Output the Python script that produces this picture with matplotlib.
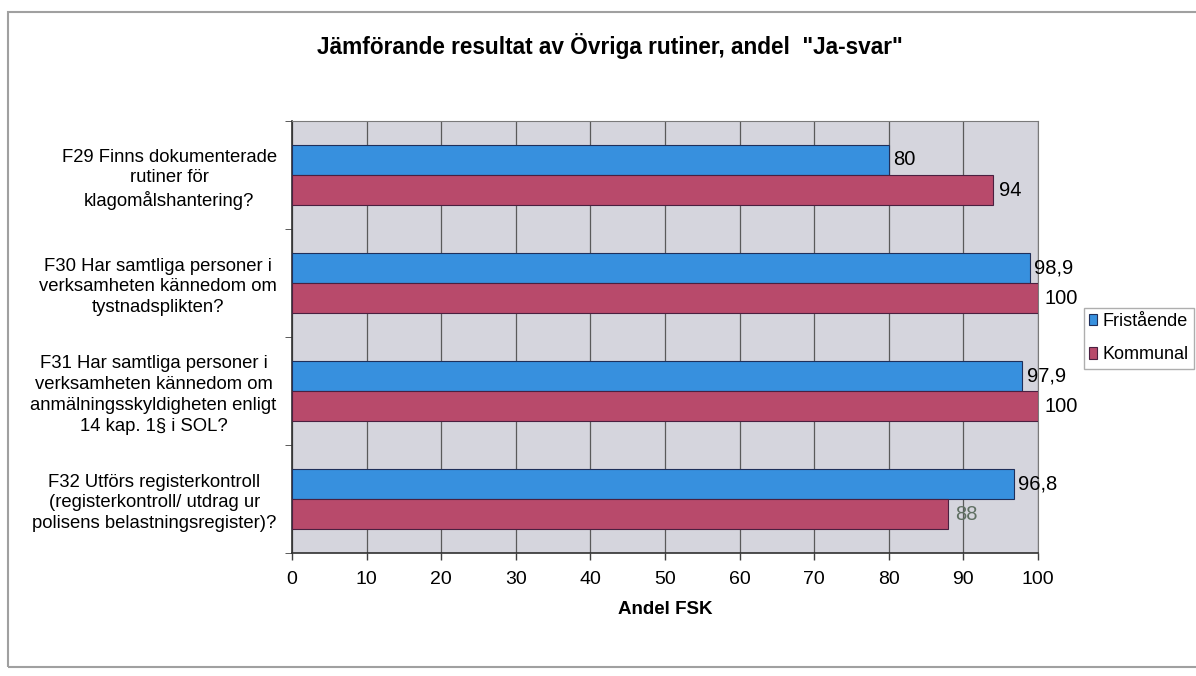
import numpy as np
import matplotlib.pyplot as plt
from matplotlib.patches import Rectangle

plt.rcParams['font.family'] = ['Liberation Sans', 'DejaVu Sans']

# data
questions = [
    "F29 Finns dokumenterade\nrutiner för\nklagomålshantering?",
    "F30 Har samtliga personer i\nverksamheten kännedom om\ntystnadsplikten?",
    "F31 Har samtliga personer i\nverksamheten kännedom om\nanmälningsskyldigheten enligt\n14 kap. 1§ i SOL?",
    "F32 Utförs registerkontroll\n(registerkontroll/ utdrag ur\npolisens belastningsregister)?",
]
fristaende = [80, 98.9, 97.9, 96.8]
kommunal = [94, 100, 100, 88]
series_names = ["Fristående", "Kommunal"]
xticks = list(range(0, 101, 10))

blue = '#3790de'
red = '#b84a6b'

fig = plt.figure(figsize=(11.96, 6.76), dpi=100)
ax = fig.add_axes([0.2441, 0.182, 0.6238, 0.639])
ax.set_facecolor('#d5d5dd')

y = np.arange(len(questions))
h = 0.28
b1 = ax.barh(y - h / 2, fristaende, height=h, color=blue, edgecolor='#1f2f5a', linewidth=0.8,
             label=series_names[0], zorder=3)
b2 = ax.barh(y + h / 2, kommunal, height=h, color=red, edgecolor='#4a2040', linewidth=0.8,
             label=series_names[1], zorder=3)


def fmt(v):
    return str(int(v)) if float(v).is_integer() else str(v).replace('.', ',')


ax.bar_label(b1, labels=[fmt(v) for v in fristaende], padding=3, fontsize=14.5, zorder=4)
lbl2 = ax.bar_label(b2, labels=[fmt(v) for v in kommunal], padding=4.5, fontsize=14.5, zorder=4)
lbl2[3].set_color('#5f6f62')

ax.set_xlim(0, 100)
ax.set_ylim(len(questions) - 0.5, -0.5)
ax.set_xticks(xticks)
ax.set_xticklabels([str(t) for t in xticks], fontsize=14)
ax.tick_params(axis='x', length=5, width=1, color='#404040', pad=8)
ax.set_yticks(y)
ax.set_yticklabels(questions, fontsize=13.3, multialignment='center', linespacing=1.3)
ax.tick_params(axis='y', length=0, pad=11)
ax.set_yticks(np.arange(len(questions) + 1) - 0.5, minor=True)
ax.tick_params(axis='y', which='minor', length=5, color='#404040')
ax.xaxis.grid(True, color='#5a5a5a', linewidth=0.9, zorder=1)
ax.set_axisbelow(True)
for s in ['top', 'right']:
    ax.spines[s].set_color('#7a7a7a')
for s in ['left', 'bottom']:
    ax.spines[s].set_color('#303030')
    ax.spines[s].set_linewidth(1.2)

ax.set_xlabel("Andel FSK", fontsize=13.5, fontweight='bold', labelpad=9)

fig.text(0.51, 0.932, 'Jämförande resultat av Övriga rutiner, andel  "Ja-svar"',
         ha='center', va='center', fontsize=16.3, fontweight='bold')

leg = fig.legend(loc='upper left', bbox_to_anchor=(0.906, 0.545), fontsize=13,
                 frameon=True, fancybox=False, edgecolor='#9a9a9a', handlelength=0.45,
                 handleheight=0.6, handletextpad=0.3, borderpad=0.3, labelspacing=0.9,
                 borderaxespad=0)
leg.get_frame().set_linewidth(1.0)

# outer chart border
fig.patches.append(Rectangle((0.007, 0.014), 1.2, 0.968, transform=fig.transFigure,
                             fill=False, edgecolor='#a0a0a0', linewidth=1.5))

fig.savefig('out.png', dpi=100)
